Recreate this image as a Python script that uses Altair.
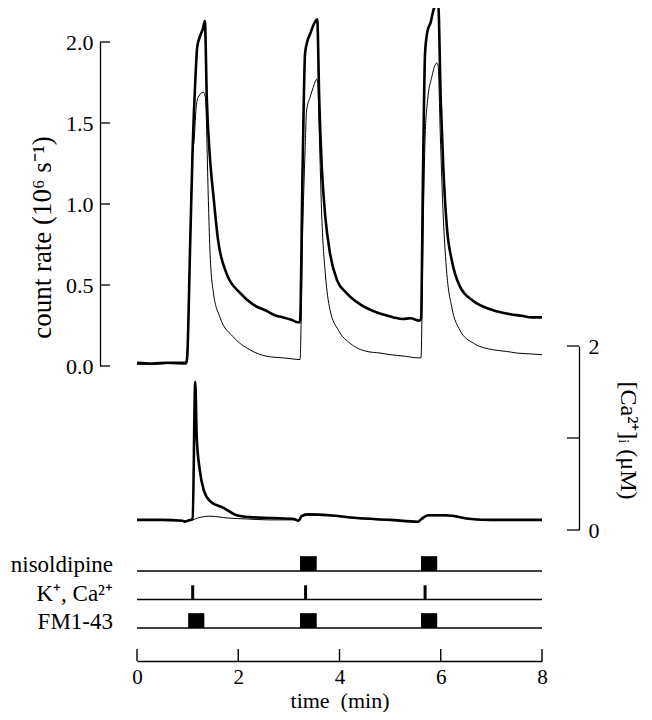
import altair as alt
import pandas as pd

FONT = "Liberation Serif, Times New Roman, serif"
W = 405
H = 653

# ---------------- data ----------------
# count rate, thick trace (10^6 s^-1) vs time (min)
thick_t = [0.0, 0.3, 0.6, 0.97, 0.99, 1.05, 1.10, 1.15, 1.19, 1.25, 1.30, 1.34, 1.38, 1.44, 1.51,
           1.60, 1.77, 2.04, 2.29, 2.56, 2.75, 2.89, 3.05, 3.18, 3.22, 3.27, 3.32, 3.37, 3.42, 3.48,
           3.56, 3.60, 3.65, 3.72, 3.81, 3.95, 4.14, 4.41, 4.74, 4.95, 5.07, 5.25, 5.40, 5.58, 5.61,
           5.65, 5.69, 5.74, 5.80, 5.87, 5.95, 6.00, 6.05, 6.12, 6.22, 6.38, 6.65, 6.98, 7.20, 7.37,
           7.60, 7.80, 8.0]
thick_v = [0.02, 0.015, 0.02, 0.02, 0.05, 0.75, 1.35, 1.75, 1.97, 2.04, 2.08, 2.13, 1.64, 1.29, 1.05,
           0.78, 0.57, 0.45, 0.38, 0.34, 0.31, 0.30, 0.285, 0.27, 0.27, 1.20, 1.93, 2.01, 2.05, 2.10,
           2.14, 1.64, 1.23, 0.92, 0.70, 0.53, 0.45, 0.38, 0.33, 0.31, 0.30, 0.29, 0.295, 0.28, 0.29,
           1.20, 1.93, 2.07, 2.12, 2.21, 2.23, 1.64, 1.23, 0.86, 0.65, 0.49, 0.40, 0.35, 0.33, 0.32,
           0.31, 0.30, 0.30]

# count rate, thin trace
thin_t = [0.0, 0.3, 0.6, 0.97, 0.99, 1.05, 1.10, 1.12, 1.17, 1.21, 1.31, 1.35, 1.41, 1.44, 1.51,
          1.64, 1.90, 2.23, 2.56, 2.89, 3.05, 3.18, 3.22, 3.27, 3.32, 3.35, 3.42, 3.48, 3.55, 3.57,
          3.60, 3.65, 3.72, 3.81, 3.98, 4.21, 4.54, 4.80, 5.0, 5.30, 5.56, 5.61, 5.65, 5.69, 5.74,
          5.82, 5.92, 5.95, 5.99, 6.05, 6.12, 6.22, 6.38, 6.65, 7.04, 7.30, 7.50, 7.75, 8.0]
thin_v = [0.01, 0.01, 0.015, 0.01, 0.03, 0.75, 1.35, 1.37, 1.60, 1.66, 1.69, 1.66, 1.02, 0.72, 0.45,
          0.30, 0.18, 0.10, 0.06, 0.05, 0.045, 0.04, 0.04, 0.80, 1.33, 1.58, 1.66, 1.72, 1.77, 1.75,
          1.44, 0.92, 0.57, 0.35, 0.22, 0.14, 0.09, 0.08, 0.07, 0.06, 0.05, 0.05, 0.80, 1.40, 1.64,
          1.78, 1.87, 1.85, 1.44, 0.92, 0.57, 0.36, 0.22, 0.14, 0.10, 0.09, 0.08, 0.075, 0.07]

# [Ca2+]i (uM), thick trace
ca_thick_t = [0.0, 0.5, 0.90, 0.95, 1.00, 1.10, 1.15, 1.18, 1.24, 1.32, 1.45, 1.71, 1.97, 2.23,
              2.69, 3.10, 3.19, 3.25, 3.36, 3.81, 4.34, 5.00, 5.55, 5.62, 5.75, 6.10, 6.60, 7.00, 8.0]
ca_thick_v = [0.11, 0.11, 0.10, 0.09, 0.10, 0.12, 1.61, 1.01, 0.65, 0.43, 0.31, 0.24, 0.16, 0.14,
              0.13, 0.12, 0.10, 0.15, 0.17, 0.16, 0.13, 0.11, 0.09, 0.12, 0.16, 0.16, 0.12, 0.11, 0.11]

# [Ca2+]i, thin trace
ca_thin_t = [0.0, 1.00, 1.10, 1.20, 1.44, 1.80, 2.17, 2.60, 3.10, 3.19, 3.25, 3.36, 3.81, 4.34,
             5.00, 5.55, 5.62, 5.75, 6.10, 6.60, 7.00, 8.0]
ca_thin_v = [0.11, 0.10, 0.11, 0.13, 0.15, 0.13, 0.12, 0.11, 0.11, 0.10, 0.14, 0.16, 0.155, 0.125,
             0.105, 0.09, 0.115, 0.155, 0.155, 0.115, 0.105, 0.105]

# application protocol (min)
row_names = ["nisoldipine", "K\u207a, Ca\u00b2\u207a", "FM1-43"]
niso_start = [3.22, 5.61]
niso_end = [3.55, 5.93]
k_times = [1.10, 3.33, 5.69]
fm_start = [1.01, 3.22, 5.61]
fm_end = [1.33, 3.55, 5.93]

count_ticks = [0.0, 0.5, 1.0, 1.5, 2.0]
ca_ticks = [0, 1, 2]
time_ticks = [0, 2, 4, 6, 8]

# ---------------- frames ----------------
thick_df = pd.DataFrame({"t": thick_t, "count": thick_v})
thin_df = pd.DataFrame({"t": thin_t, "count": thin_v})
cat_df = pd.DataFrame({"t": ca_thick_t, "ca": ca_thick_v})
can_df = pd.DataFrame({"t": ca_thin_t, "ca": ca_thin_v})
base_df = pd.DataFrame({"row": [0, 1, 2], "start": [0, 0, 0], "end": [8, 8, 8], "label": row_names})
box_df = pd.DataFrame({
    "row": [0] * len(niso_start) + [2] * len(fm_start),
    "start": niso_start + fm_start,
    "end": niso_end + fm_end,
})
k_df = pd.DataFrame({"row": [1] * len(k_times), "t": k_times})
cticks_df = pd.DataFrame({"count": count_ticks})
caticks_df = pd.DataFrame({"ca": ca_ticks})
tticks_df = pd.DataFrame({"t": time_ticks})

# ---------------- scales / axes ----------------
x_scale = alt.Scale(domain=[0, 8])
x_axis = alt.Axis(values=time_ticks, format="d", ticks=False, labelPadding=5, labelFlush=False,
                  labelFont=FONT, labelFontSize=21, labelColor="black",
                  domainColor="black", domainWidth=1.4,
                  title="time\u00a0 (min)", titleFont=FONT, titleFontSize=22, titleFontWeight="normal",
                  titleColor="black", titleX=W / 2, titleY=46, titleAlign="center",
                  titleBaseline="alphabetic")

count_scale = alt.Scale(domain=[0, 2], range=[358, 34])
count_axis = alt.Axis(values=count_ticks, format=".1f", ticks=False, offset=37, labelPadding=7,
                      labelFlush=False, labelFont=FONT, labelFontSize=22, labelColor="black",
                      domainColor="black", domainWidth=1.3,
                      title="count rate (10\u2076 s\u207b\u00b9)", titleFont=FONT, titleFontSize=27,
                      titleFontWeight="normal", titleColor="black", titleX=-58, titleY=229,
                      titleAngle=270, titleAlign="center", titleBaseline="middle")

ca_scale = alt.Scale(domain=[0, 2], range=[522, 338])
ca_axis = alt.Axis(orient="right", values=ca_ticks, format="d", ticks=False, offset=37, labelPadding=9,
                   labelFlush=False, labelFont=FONT, labelFontSize=22, labelColor="black",
                   domainColor="black", domainWidth=1.3,
                   title="[Ca\u00b2\u207a]\u1d62 (\u03bcM)", titleFont=FONT, titleFontSize=24,
                   titleFontWeight="normal", titleColor="black", titleX=48, titleY=432,
                   titleAngle=90, titleAlign="center", titleBaseline="middle")

ev_scale = alt.Scale(domain=[0, 2], range=[563, 620])

X = lambda f: alt.X(f, type="quantitative", scale=x_scale, axis=x_axis)

# ---------------- count-rate layer ----------------
c_thick = alt.Chart(thick_df).mark_line(color="black", strokeWidth=2.6, interpolate="monotone").encode(
    x=X("t"), y=alt.Y("count:Q", scale=count_scale, axis=count_axis))
c_thin = alt.Chart(thin_df).mark_line(color="black", strokeWidth=1.0, interpolate="monotone").encode(
    x=X("t"), y=alt.Y("count:Q", scale=count_scale, axis=count_axis))
c_ticks = alt.Chart(cticks_df).mark_rule(color="black", strokeWidth=1.3).encode(
    y=alt.Y("count:Q", scale=count_scale, axis=count_axis),
    x=alt.value(-37), x2=alt.value(-27))
count_layer = alt.layer(c_thick, c_thin, c_ticks)

# ---------------- Ca layer ----------------
ca_thick = alt.Chart(cat_df).mark_line(color="black", strokeWidth=2.6, interpolate="monotone").encode(
    x=X("t"), y=alt.Y("ca:Q", scale=ca_scale, axis=ca_axis))
ca_thin = alt.Chart(can_df).mark_line(color="black", strokeWidth=1.0, interpolate="monotone").encode(
    x=X("t"), y=alt.Y("ca:Q", scale=ca_scale, axis=ca_axis))
ca_tk = alt.Chart(caticks_df).mark_rule(color="black", strokeWidth=1.3).encode(
    y=alt.Y("ca:Q", scale=ca_scale, axis=ca_axis),
    x=alt.value(W + 25), x2=alt.value(W + 37))
ca_layer = alt.layer(ca_thick, ca_thin, ca_tk)

# ---------------- protocol layer ----------------
ev_base = alt.Chart(base_df).mark_rule(color="black", strokeWidth=1.6).encode(
    x=X("start"), x2="end", y=alt.Y("row:Q", scale=ev_scale, axis=None))
ev_box = alt.Chart(box_df).transform_calculate(top="datum.row - 0.52").mark_rect(color="black").encode(
    x=X("start"), x2="end", y=alt.Y("row:Q", scale=ev_scale, axis=None), y2="top:Q")
ev_k = alt.Chart(k_df).transform_calculate(top="datum.row - 0.5").mark_rule(color="black", strokeWidth=3).encode(
    x=X("t"), y=alt.Y("row:Q", scale=ev_scale, axis=None), y2="top:Q")
ev_lab = alt.Chart(base_df).mark_text(align="right", baseline="alphabetic", font=FONT, fontSize=23,
                                      color="black", dy=1).encode(
    x=alt.value(-24), y=alt.Y("row:Q", scale=ev_scale, axis=None), text="label:N")
t_ticks = alt.Chart(tticks_df).mark_rule(color="black", strokeWidth=1.4).encode(
    x=X("t"), y=alt.value(H - 12), y2=alt.value(H))
ev_layer = alt.layer(ev_base, ev_box, ev_k, ev_lab, t_ticks)

chart = alt.layer(count_layer, ca_layer, ev_layer).resolve_scale(y="independent").properties(
    width=W, height=H,
    autosize=alt.AutoSizeParams(type="none"),
    padding={"left": 129, "top": 0, "right": 100, "bottom": 51},
).configure_axis(grid=False).configure_view(stroke=None)

chart.save("out.html", embed_options={"renderer": "svg", "actions": False})
